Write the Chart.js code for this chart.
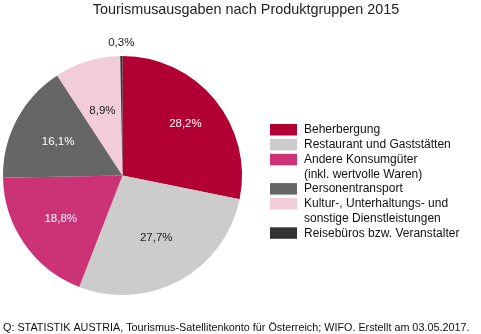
<!DOCTYPE html>
<html>
<head>
<meta charset="utf-8">
<script src="https://cdn.jsdelivr.net/npm/chart.js@4/dist/chart.umd.min.js"></script>
<style>
html,body{margin:0;padding:0;background:#fff;}
#wrap{position:relative;width:481px;height:334px;}
</style>
</head>
<body>
<div id="wrap"><canvas id="c" width="481" height="334"></canvas></div>
<script>
const titleText = "Tourismusausgaben nach Produktgruppen 2015";
const footerText = "Q: STATISTIK AUSTRIA, Tourismus-Satellitenkonto für Österreich; WIFO. Erstellt am 03.05.2017.";
const categories = [
  ["Beherbergung"],
  ["Restaurant und Gaststätten"],
  ["Andere Konsumgüter", "(inkl. wertvolle Waren)"],
  ["Personentransport"],
  ["Kultur-, Unterhaltungs- und", "sonstige Dienstleistungen"],
  ["Reisebüros bzw. Veranstalter"]
];
const shares = [28.2, 27.7, 18.8, 16.1, 8.9, 0.3];
const percentLabels = ["28,2%", "27,7%", "18,8%", "16,1%", "8,9%", "0,3%"];

const colors = ["#B20034", "#CCCCCC", "#CC3377", "#666666", "#F2CCD9", "#333333"];
const labelColors = ["#ffffff", "#222222", "#ffffff", "#ffffff", "#222222", "#222222"];
const labelRadiusFrac = [0.68, 0.59, 0.63, 0.61, 0.57, 1.11];

const FONT = "'Liberation Sans', Arial, sans-serif";

const decor = {
  id: 'decor',
  afterDraw(chart) {
    const ctx = chart.ctx;
    ctx.save();
    // title
    ctx.fillStyle = '#222';
    ctx.font = '14.4px ' + FONT;
    ctx.textAlign = 'center';
    ctx.textBaseline = 'alphabetic';
    ctx.fillText(titleText, 246, 14);
    // slice labels
    ctx.textBaseline = 'middle';
    const meta = chart.getDatasetMeta(0);
    ctx.font = '11.5px ' + FONT;
    meta.data.forEach((arc, i) => {
      const p = arc.getProps(['x','y','startAngle','endAngle','outerRadius'], true);
      const mid = (p.startAngle + p.endAngle) / 2;
      const r = p.outerRadius * labelRadiusFrac[i];
      ctx.fillStyle = labelColors[i];
      ctx.fillText(percentLabels[i], p.x + Math.cos(mid) * r, p.y + Math.sin(mid) * r);
    });
    // legend
    ctx.textAlign = 'left';
    ctx.font = '12px ' + FONT;
    let y = 124;
    const lineH = 14.4;
    categories.forEach((lines, i) => {
      ctx.fillStyle = colors[i];
      ctx.fillRect(270, y, 27, 11.5);
      ctx.fillStyle = '#111';
      lines.forEach((ln, j) => {
        ctx.fillText(ln, 304, y + 6 + j * lineH);
      });
      y += lines.length * lineH + 0.5;
    });
    // footer
    ctx.font = '10.8px ' + FONT;
    ctx.fillStyle = '#111';
    ctx.textBaseline = 'alphabetic';
    ctx.fillText(footerText, 3, 330.5);
    ctx.restore();
  }
};

new Chart(document.getElementById('c'), {
  type: 'pie',
  data: {
    labels: categories,
    datasets: [{
      data: shares,
      backgroundColor: colors,
      borderWidth: 0
    }]
  },
  options: {
    responsive: false,
    animation: false,
    layout: { padding: { left: 3, right: 239, top: 56, bottom: 39 } },
    plugins: {
      legend: { display: false },
      title: { display: false },
      tooltip: { enabled: false }
    }
  },
  plugins: [decor]
});
</script>
</body>
</html>
